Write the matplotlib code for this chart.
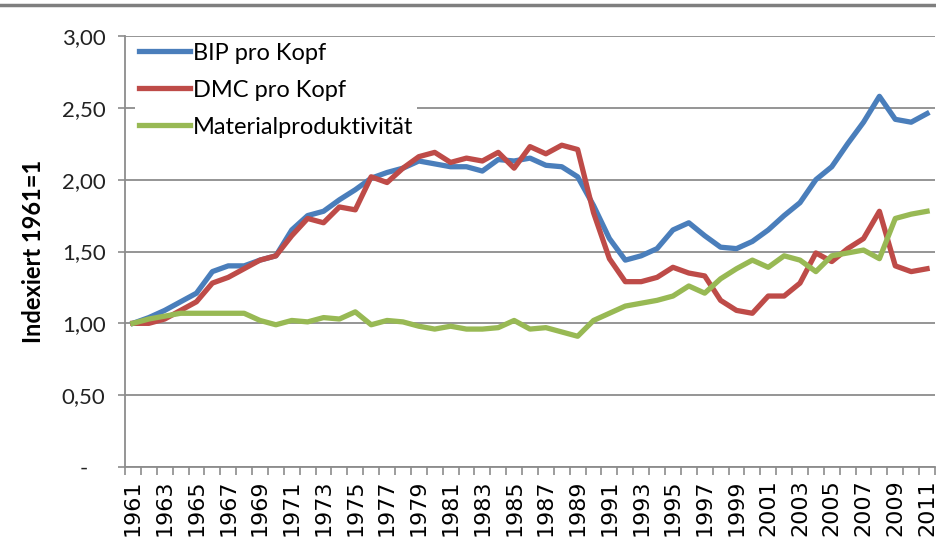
import numpy as np
import matplotlib
matplotlib.use('Agg')
import matplotlib.pyplot as plt
from matplotlib.lines import Line2D
from matplotlib.ticker import FuncFormatter

# data
years = list(range(1961, 2012))

bip = [1.00, 1.04, 1.09, 1.15, 1.21, 1.36, 1.40, 1.40, 1.44, 1.47,
       1.65, 1.75, 1.78, 1.86, 1.93, 2.01, 2.05, 2.08, 2.13, 2.11,
       2.09, 2.09, 2.06, 2.14, 2.13, 2.15, 2.10, 2.09, 2.02, 1.82,
       1.59, 1.44, 1.47, 1.52, 1.65, 1.70, 1.61, 1.53, 1.52, 1.57,
       1.65, 1.75, 1.84, 2.00, 2.09, 2.25, 2.40, 2.58, 2.42, 2.40,
       2.46]

dmc = [1.00, 1.00, 1.03, 1.09, 1.15, 1.28, 1.32, 1.38, 1.44, 1.47,
       1.61, 1.73, 1.70, 1.81, 1.79, 2.02, 1.98, 2.08, 2.16, 2.19,
       2.12, 2.15, 2.13, 2.19, 2.08, 2.23, 2.18, 2.24, 2.21, 1.77,
       1.45, 1.29, 1.29, 1.32, 1.39, 1.35, 1.33, 1.16, 1.09, 1.07,
       1.19, 1.19, 1.28, 1.49, 1.43, 1.52, 1.59, 1.78, 1.40, 1.36,
       1.38]

mat = [1.00, 1.03, 1.05, 1.07, 1.07, 1.07, 1.07, 1.07, 1.02, 0.99,
       1.02, 1.01, 1.04, 1.03, 1.08, 0.99, 1.02, 1.01, 0.98, 0.96,
       0.98, 0.96, 0.96, 0.97, 1.02, 0.96, 0.97, 0.94, 0.91, 1.02,
       1.07, 1.12, 1.14, 1.16, 1.19, 1.26, 1.21, 1.31, 1.38, 1.44,
       1.39, 1.47, 1.44, 1.36, 1.47, 1.49, 1.51, 1.45, 1.73, 1.76,
       1.78]

labels = ['BIP pro Kopf', 'DMC pro Kopf', 'Materialproduktivität']
colors = ['#4A7EBB', '#BE4B48', '#98B954']

grid_c = '#8C8C8C'

fig = plt.figure(figsize=(9.37, 5.55), dpi=100)
ax = fig.add_axes([125/937, 1 - 467/555, 810/937, 431/555])

for vals, lab, c in zip([bip, dmc, mat], labels, colors):
    ax.plot(years, vals, color=c, lw=3.8, label=lab, solid_joinstyle='round')

ax.set_xlim(1960.5, 2011.5)
ax.set_ylim(0, 3.0)

# y axis
ax.set_yticks(np.arange(0, 3.01, 0.5))
ax.yaxis.set_major_formatter(FuncFormatter(lambda v, p: '-   ' if v == 0 else ('%.2f' % v).replace('.', ',')))
ax.tick_params(axis='y', direction='out', length=5, color=grid_c, width=1.2,
               labelsize=16, labelcolor='#222222', pad=9)
for t in ax.get_yticklabels():
    t.set_family('Lato')
ax.grid(axis='y', color=grid_c, lw=1.3)
ax.set_axisbelow(True)

# x axis: ticks between categories, labels every second year
ax.set_xticks(np.arange(1960.5, 2012, 1), minor=True)
ax.set_xticks(years[::2])
ax.set_xticklabels([str(y) for y in years[::2]], rotation=90, fontsize=16,
                   family='DejaVu Sans')
ax.tick_params(axis='x', which='major', length=0, pad=9)
ax.tick_params(axis='x', which='minor', direction='out', length=6,
               color=grid_c, width=1.2)

for s in ['top', 'right']:
    ax.spines[s].set_visible(False)
for s in ['left', 'bottom']:
    ax.spines[s].set_color(grid_c)
    ax.spines[s].set_linewidth(1.3)

ax.set_ylabel('Indexiert 1961=1', fontsize=17, fontweight='bold',
              family='Lato', labelpad=12)

leg = ax.legend(loc='upper left', bbox_to_anchor=(135/937, 1 - 39/555),
                bbox_transform=fig.transFigure, frameon=True, fancybox=False,
                edgecolor='none', facecolor='white', framealpha=1,
                prop={'family': 'Lato', 'size': 17}, handlelength=2.2,
                handletextpad=0.1, labelspacing=0.68, borderpad=0.15,
                borderaxespad=0)

# grey rule along the top edge of the image
fig.add_artist(Line2D([0, 1], [1 - 5/555, 1 - 5/555], color='#7F7F7F', lw=2.5,
                      transform=fig.transFigure))

plt.savefig('out.png', dpi=100)
